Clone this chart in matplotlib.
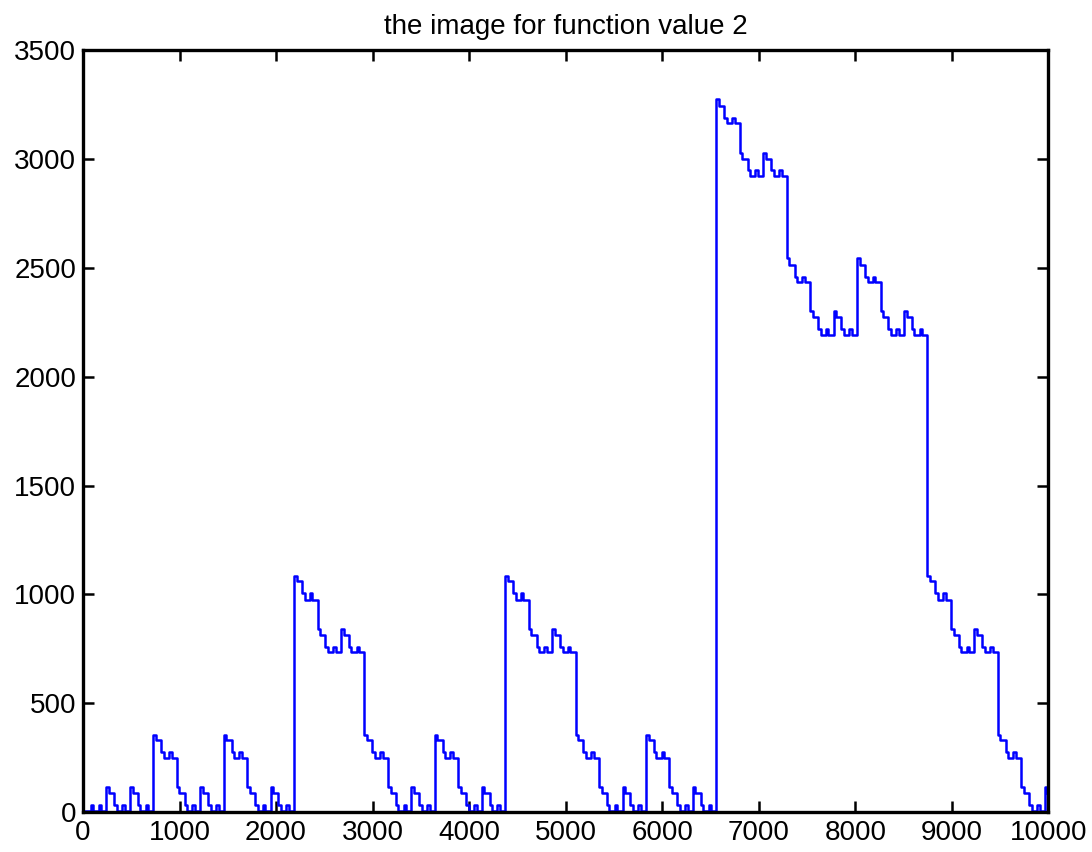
import numpy as np
import matplotlib
matplotlib.use("Agg")
import matplotlib.pyplot as plt

matplotlib.rcParams['font.family'] = 'Liberation Sans'

# values, one step every 27 units of x
step = 27

# 0 .. 2187
seg_a_start = 0
seg_a = [5, 5, 5, 30, 5, 5, 30, 5, 5, 115, 85, 85, 30, 5, 5, 30, 5, 5, 115, 85, 85, 30, 5, 5, 30, 5, 5,
         355, 330, 330, 275, 250, 250, 275, 250, 250, 115, 85, 85, 30, 5, 5, 30, 5, 5, 115, 85, 85, 30, 5, 5, 30, 5, 5,
         355, 330, 330, 275, 250, 250, 275, 250, 250, 115, 85, 85, 30, 5, 5, 30, 5, 5, 115, 85, 85, 30, 5, 5, 30, 5, 5]

# 2187 .. 4374
seg_b_start = 2187
seg_b = [1085, 1060, 1060, 1005, 975, 975, 1005, 975, 975, 840, 815, 815, 760, 735, 735, 760, 735, 735,
         840, 815, 815, 760, 735, 735, 760, 735, 735,
         355, 330, 330, 275, 250, 250, 275, 250, 250, 115, 85, 85, 30, 5, 5, 30, 5, 5, 115, 85, 85, 30, 5, 5, 30, 5, 5,
         355, 330, 330, 275, 250, 250, 275, 250, 250, 115, 85, 85, 30, 5, 5, 30, 5, 5, 115, 85, 85, 30, 5, 5, 30, 5, 5]

# 4374 .. 6561
seg_c_start = 4374
seg_c = [1085, 1060, 1060, 1005, 975, 975, 1005, 975, 975, 840, 815, 815, 760, 735, 735, 760, 735, 735,
         840, 815, 815, 760, 735, 735, 760, 735, 735,
         355, 330, 330, 275, 250, 250, 275, 250, 250, 115, 85, 85, 30, 5, 5, 30, 5, 5, 115, 85, 85, 30, 5, 5, 30, 5, 5,
         355, 330, 330, 275, 250, 250, 275, 250, 250, 115, 85, 85, 30, 5, 5, 30, 5, 5, 115, 85, 85, 30, 5, 5, 30, 5, 5]

# 6561 .. 10000
seg_d_start = 6561
seg_d = [3275, 3245, 3245, 3190, 3165, 3165, 3190, 3165, 3165, 3030, 3000, 3000, 2950, 2920, 2920, 2950, 2920, 2920,
         3030, 3000, 3000, 2950, 2920, 2920, 2950, 2920, 2920,
         2545, 2515, 2515, 2460, 2435, 2435, 2460, 2435, 2435, 2300, 2275, 2275, 2220, 2190, 2190, 2220, 2190, 2190,
         2300, 2275, 2275, 2220, 2190, 2190, 2220, 2190, 2190,
         2545, 2515, 2515, 2460, 2435, 2435, 2460, 2435, 2435, 2300, 2275, 2275, 2220, 2190, 2190, 2220, 2190, 2190,
         2300, 2275, 2275, 2220, 2190, 2190, 2220, 2190, 2190,
         1085, 1060, 1060, 1005, 975, 975, 1005, 975, 975, 840, 815, 815, 760, 735, 735, 760, 735, 735,
         840, 815, 815, 760, 735, 735, 760, 735, 735,
         355, 330, 330, 275, 250, 250, 275, 250, 250, 115, 85, 85, 30, 5, 5, 30, 5, 5, 115, 85]

x_end = 10000

xs, ys = [], []
for start, seg in [(seg_a_start, seg_a), (seg_b_start, seg_b), (seg_c_start, seg_c), (seg_d_start, seg_d)]:
    xs.extend(start + step*np.arange(len(seg)))
    ys.extend(seg)
xs.append(x_end)
ys.append(ys[-1])

fig = plt.figure(figsize=(10.92, 8.52), dpi=100)
ax = fig.add_axes([0.076, 0.047, 0.884, 0.894])

ax.plot(xs, ys, color="#0000ff", lw=1.8, drawstyle="steps-post")

ax.set_xlim(0, 10000)
ax.set_ylim(0, 3500)
ax.set_xticks(np.arange(0, 10001, 1000))
ax.set_yticks(np.arange(0, 3501, 500))
ax.tick_params(direction="in", length=8, width=1.8, labelsize=20, pad=6,
               top=True, right=True)
ax.tick_params(axis="y", pad=5)
for s in ax.spines.values():
    s.set_linewidth(2.4)

ax.set_title("the image for function value 2", fontsize=20, pad=12)

fig.savefig("out.png", dpi=100)
